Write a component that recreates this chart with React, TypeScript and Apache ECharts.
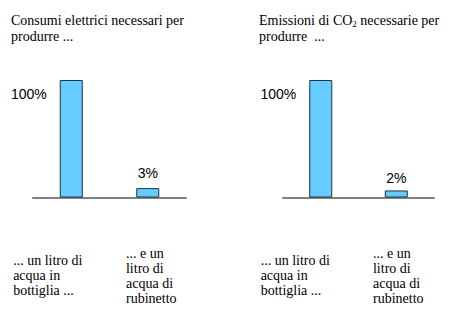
import React, { useEffect, useRef } from "react";
import * as echarts from "echarts";

const categories = [
  "... un litro di\nacqua in\nbottiglia ...",
  "... e un\nlitro di\nacqua di\nrubinetto",
];
const energyValues = [100, 8];
const energyLabels = ["100%", "3%"];
const co2Values = [100, 6];
const co2Labels = ["100%", "2%"];
const energyTitle = "{a|Consumi elettrici necessari per}\n{a|produrre ...}";
const co2Title = "{a|Emissioni di CO}{s|2}{a| necessarie per}\n{a|produrre  ...}";

const SERIF = "Liberation Serif";
const SANS = "Liberation Sans";

function catLabelRich(padRight0: number, padLeft1: number) {
  const base = {
    fontFamily: SERIF,
    fontSize: 14,
    fontWeight: "normal",
    lineHeight: 15,
    color: "#000",
    align: "left",
  };
  return {
    c0: { ...base, padding: [0, padRight0, 0, 0] },
    c1: { ...base, padding: [0, 0, 0, padLeft1] },
  };
}

function catFormatter(value: string, index: number) {
  return value
    .split("\n")
    .map((l) => `{c${index}|${l}}`)
    .join("\n");
}

function seriesData(values: number[], labels: string[], topDistance: number) {
  return values.map((v, i) => ({
    value: v,
    label:
      i === 0
        ? {
            show: true,
            position: [-13, 14],
            align: "right",
            verticalAlign: "middle",
            formatter: labels[i],
            fontFamily: SANS,
            fontSize: 14,
            color: "#000",
          }
        : {
            show: true,
            position: "top",
            distance: topDistance,
            formatter: labels[i],
            fontFamily: SANS,
            fontSize: 14,
            color: "#000",
          },
  }));
}

export default function App() {
  const ref = useRef<HTMLDivElement>(null);
  useEffect(() => {
    if (!ref.current) return;
    const chart = echarts.init(ref.current, undefined, { renderer: "svg" });
    const barStyle = { color: "#66CCFF", borderColor: "#1E3344", borderWidth: 1 };
    const xAxisCommon = {
      type: "category" as const,
      data: categories,
      axisLine: { show: true, lineStyle: { color: "#808080", width: 2 } },
      axisTick: { show: false },
      axisLabel: {
        interval: 0,
        margin: 78,
        verticalAlign: "middle",
        fontFamily: SERIF,
        fontSize: 14,
        color: "#000",
        formatter: catFormatter,
      },
    };
    const titleRichA = {
      fontFamily: SERIF,
      fontSize: 14,
      fontWeight: "normal",
      lineHeight: 16,
      color: "#000",
      align: "left",
    };
    chart.setOption({
      animation: false,
      backgroundColor: "#fff",
      title: [
        {
          text: energyTitle,
          left: 11,
          top: 12,
          padding: 0,
          textStyle: {
            fontFamily: SERIF,
            fontWeight: "normal",
            fontSize: 14,
            rich: { a: titleRichA },
          },
        },
        {
          text: co2Title,
          left: 259,
          top: 12,
          padding: 0,
          textStyle: {
            fontFamily: SERIF,
            fontWeight: "normal",
            fontSize: 14,
            rich: {
              a: titleRichA,
              s: {
                fontFamily: SERIF,
                fontSize: 9,
                fontWeight: "normal",
                lineHeight: 16,
                verticalAlign: "bottom",
                color: "#000",
                align: "left",
              },
            },
          },
        },
      ],
      grid: [
        { left: 33, width: 153, top: 80, height: 117.5 },
        { left: 283, width: 151, top: 80, height: 117.5 },
      ],
      xAxis: [
        { ...xAxisCommon, gridIndex: 0, axisLabel: { ...xAxisCommon.axisLabel, rich: catLabelRich(47, 7) } },
        { ...xAxisCommon, gridIndex: 1, axisLabel: { ...xAxisCommon.axisLabel, rich: catLabelRich(51, 4) } },
      ],
      yAxis: [
        { type: "value", gridIndex: 0, min: 0, max: 100, show: false },
        { type: "value", gridIndex: 1, min: 0, max: 100, show: false },
      ],
      series: [
        {
          type: "bar",
          xAxisIndex: 0,
          yAxisIndex: 0,
          barWidth: 23,
          itemStyle: barStyle,
          data: seriesData(energyValues, energyLabels, 8),
        },
        {
          type: "bar",
          xAxisIndex: 1,
          yAxisIndex: 1,
          barWidth: 23,
          itemStyle: barStyle,
          data: seriesData(co2Values, co2Labels, 5.5),
        },
      ],
    });
    return () => chart.dispose();
  }, []);
  return <div ref={ref} style={{ width: 451, height: 309, position: "absolute", left: 0, top: 0 }} />;
}
